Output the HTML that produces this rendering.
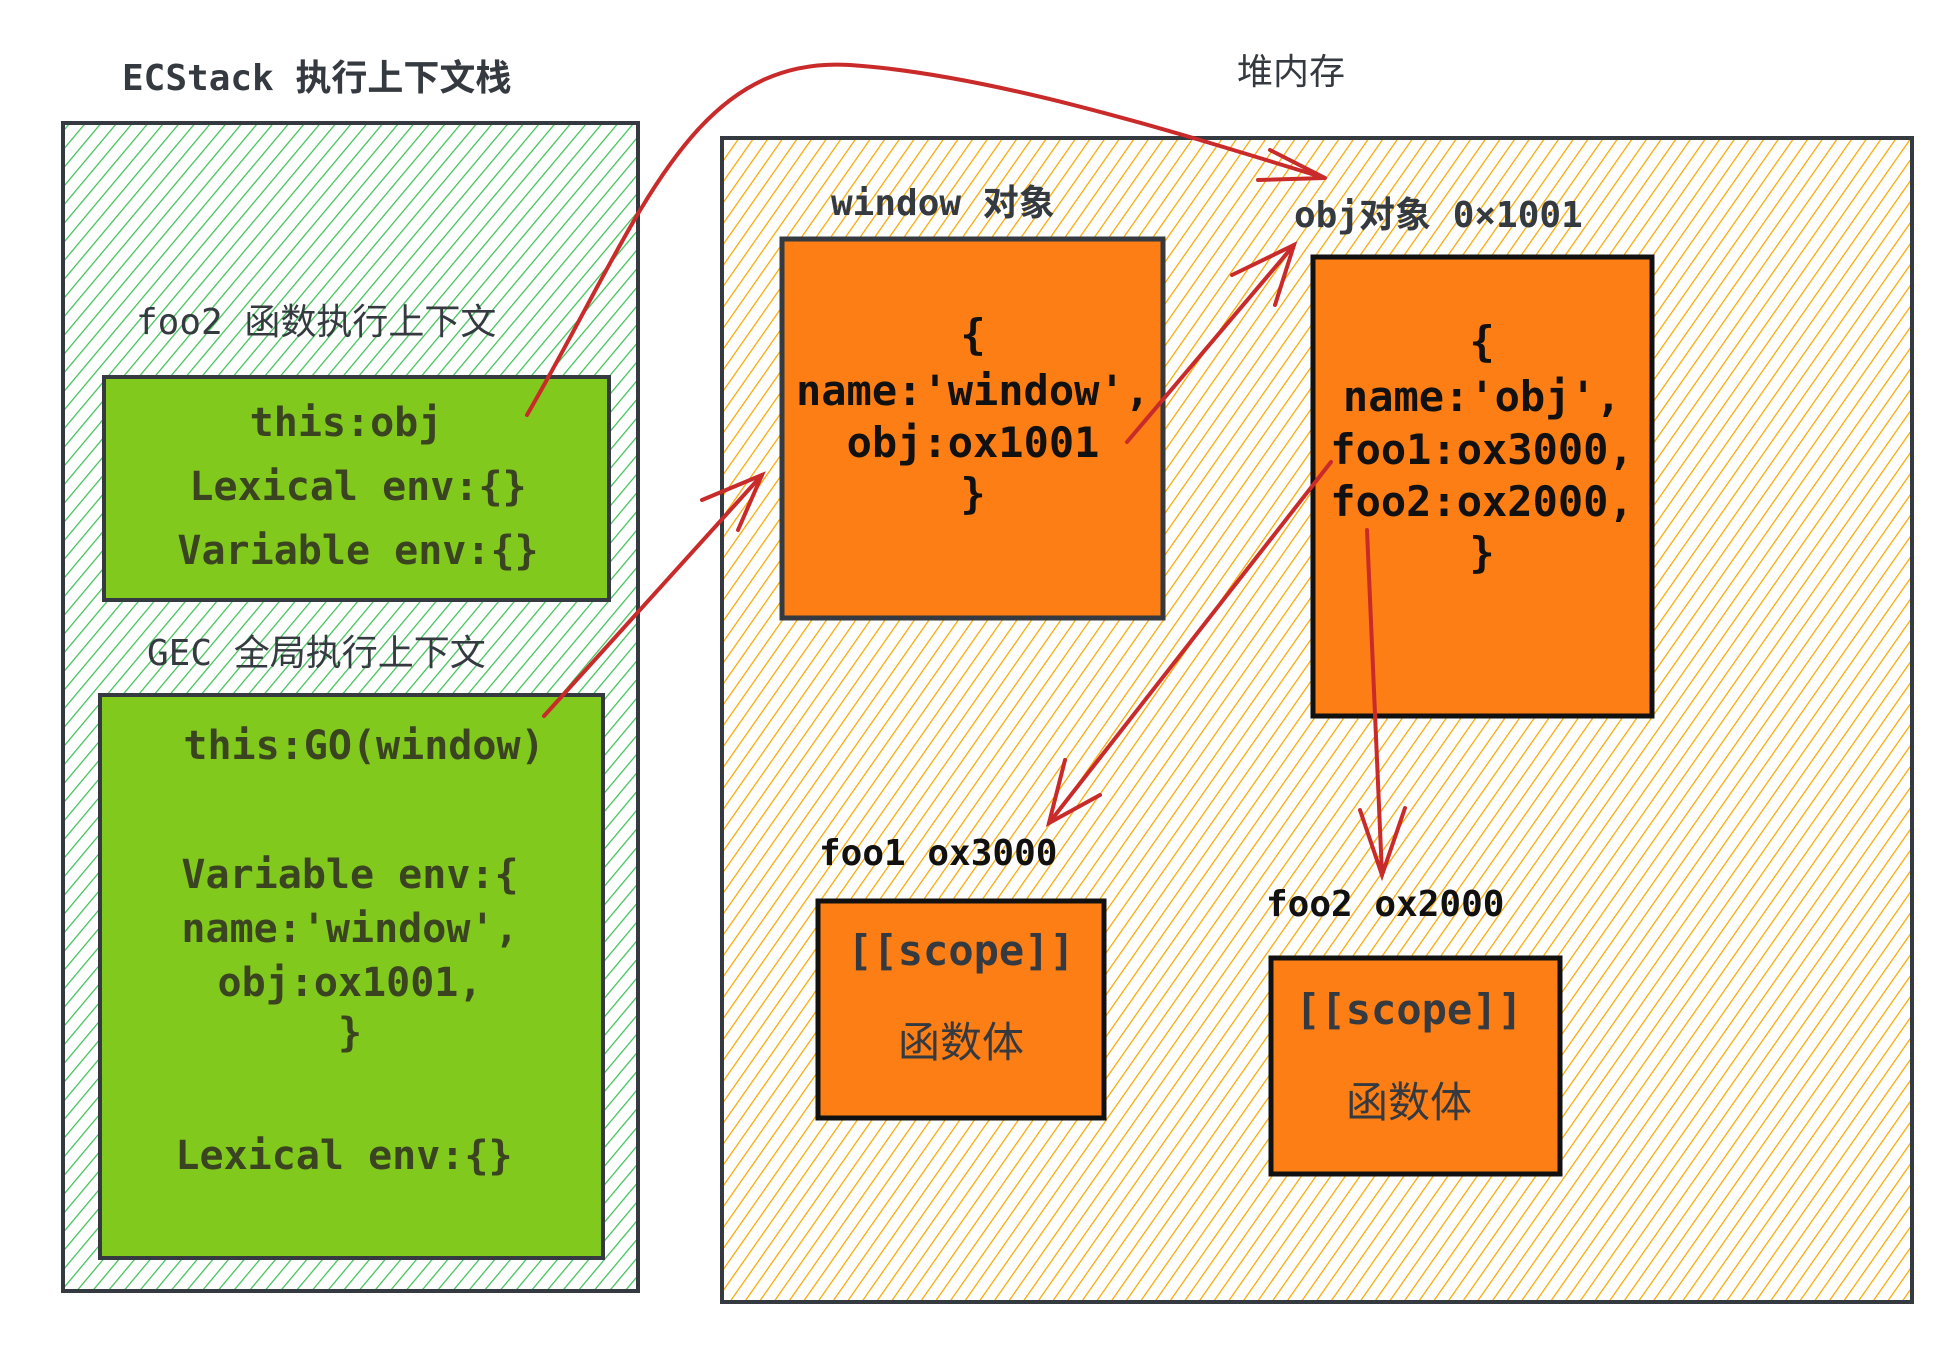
<!DOCTYPE html>
<html><head><meta charset="utf-8"><style>
html,body{margin:0;padding:0;background:#fff;}
svg{display:block}
text{font-family:"DejaVu Sans Mono","Liberation Mono","Noto Sans CJK SC",monospace;}
.c{font-size:42px;font-weight:bold;fill:#111;text-anchor:middle}
.g{font-size:40px;font-weight:bold;fill:#3a4420;text-anchor:middle}
.l{font-size:36px;fill:#343a40;}
</style></head><body>
<svg width="1960" height="1354" viewBox="0 0 1960 1354" xmlns="http://www.w3.org/2000/svg">
<defs>
<pattern id="hg" width="12" height="12" patternUnits="userSpaceOnUse" patternTransform="rotate(40)">
<line x1="0" y1="0" x2="0" y2="12" stroke="#40c057" stroke-width="2.5"/></pattern>
<pattern id="ho" width="12" height="12" patternUnits="userSpaceOnUse" patternTransform="rotate(35)">
<line x1="0" y1="0" x2="0" y2="12" stroke="#f5a800" stroke-width="2.5"/></pattern>
</defs>
<rect x="63" y="123" width="575" height="1168" fill="url(#hg)" stroke="#343a40" stroke-width="4"/>
<rect x="722" y="138" width="1190" height="1164" fill="url(#ho)" stroke="#343a40" stroke-width="4"/>
<text class="l" x="122" y="90" font-weight="bold">ECStack 执行上下文栈</text>
<text class="l" x="1237" y="84">堆内存</text>
<text class="l" x="136" y="334">foo2 函数执行上下文</text>
<rect x="104" y="377" width="505" height="223" fill="#82c91e" stroke="#343a40" stroke-width="4"/>
<text class="g" x="346" y="436">this:obj</text>
<text class="g" x="358" y="500">Lexical env:{}</text>
<text class="g" x="358" y="564">Variable env:{}</text>
<text class="l" x="147" y="665">GEC 全局执行上下文</text>
<rect x="100" y="695" width="503" height="563" fill="#82c91e" stroke="#343a40" stroke-width="4"/>
<text class="g" x="364" y="759">this:GO(window)</text>
<text class="g" x="350" y="888">Variable env:{</text>
<text class="g" x="350" y="942">name:'window',</text>
<text class="g" x="350" y="996">obj:ox1001,</text>
<text class="g" x="350" y="1046">}</text>
<text class="g" x="344" y="1169">Lexical env:{}</text>
<text class="l" x="831" y="215" font-weight="bold">window 对象</text>
<rect x="782" y="239" width="381" height="379" fill="#fd7e14" stroke="#343a40" stroke-width="5"/>
<text class="c" x="973" y="349">{</text>
<text class="c" x="973" y="405">name:'window',</text>
<text class="c" x="973" y="457">obj:ox1001</text>
<text class="c" x="973" y="508">}</text>
<text class="l" x="1294" y="227" font-weight="bold">obj对象 0×1001</text>
<rect x="1313" y="257" width="339" height="459" fill="#fd7e14" stroke="#111" stroke-width="5"/>
<text class="c" x="1482" y="356">{</text>
<text class="c" x="1482" y="411">name:'obj',</text>
<text class="c" x="1482" y="464">foo1:ox3000,</text>
<text class="c" x="1482" y="516">foo2:ox2000,</text>
<text class="c" x="1482" y="567">}</text>
<text class="l" x="819" y="865" font-weight="bold" fill="#111" style="fill:#111">foo1 ox3000</text>
<rect x="818" y="901" width="286" height="217" fill="#fd7e14" stroke="#111" stroke-width="5"/>
<text class="c" x="961" y="965" style="fill:#343a40">[[scope]]</text>
<text class="c" x="961" y="1057" style="fill:#343a40;font-weight:normal">函数体</text>
<text class="l" x="1266" y="916" font-weight="bold" style="fill:#111">foo2 ox2000</text>
<rect x="1271" y="958" width="289" height="216" fill="#fd7e14" stroke="#111" stroke-width="5"/>
<text class="c" x="1409" y="1024" style="fill:#343a40">[[scope]]</text>
<text class="c" x="1409" y="1117" style="fill:#343a40;font-weight:normal">函数体</text>
<g fill="none" stroke="#c92a2a" stroke-width="4" stroke-linecap="round">
<path d="M527,415 C640,220 690,55 850,65 C1000,75 1200,140 1325,178"/>
<path d="M1270,150 L1325,178 L1258,180"/>
<path d="M544,716 L762,475"/>
<path d="M702,500 L762,475 L738,530"/>
<path d="M1127,442 L1294,245"/>
<path d="M1232,275 L1294,245 L1275,305"/>
<path d="M1331,462 L1049,823"/>
<path d="M1065,760 L1049,823 L1100,795"/>
<path d="M1367,530 L1382,875"/>
<path d="M1360,810 L1382,875 L1405,808"/>
</g>
</svg>
</body></html>
